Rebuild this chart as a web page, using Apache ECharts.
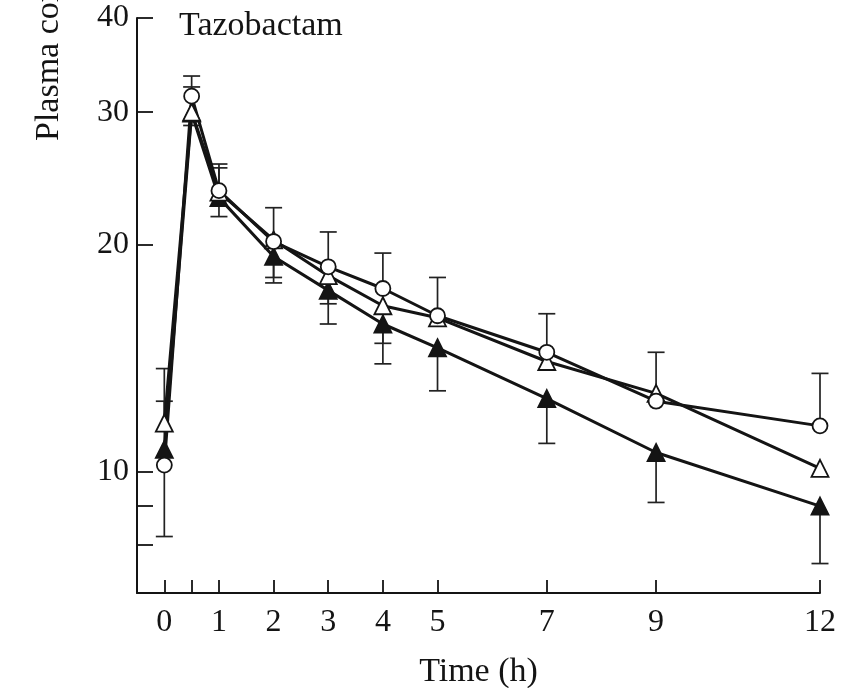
<!DOCTYPE html>
<html>
<head>
<meta charset="utf-8">
<title>Tazobactam plasma concentration</title>
<script src="https://cdn.jsdelivr.net/npm/echarts@6/dist/echarts.min.js"></script>
<style>
  html, body { margin: 0; padding: 0; background: #fff; }
  #chart { width: 863px; height: 688px; }
</style>
</head>
<body>
<div id="chart"></div>
<script>
// Sampling times (h)
const times = [0, 0.5, 1, 2, 3, 4, 5, 7, 9, 12];

// Mean plasma concentrations for the three groups
const circleMean    = [10.2, 31.5, 23.6, 20.2, 18.7, 17.5, 16.1, 14.4, 12.4, 11.5];
const openTriMean   = [11.6, 30.0, 23.5, 20.3, 18.2, 16.6, 16.0, 14.0, 12.7, 10.1];
const filledTriMean = [10.7, 29.9, 23.1, 19.3, 17.4, 15.7, 14.6, 12.5, 10.6, 9.0];

// Error-bar ends (null where no bar is drawn)
const circleUpper    = [12.4, 33.5, 25.6, 22.4, 20.8, 19.5, 18.1, 16.2, null, 13.5];
const circleLower    = [8.2, null, null, null, null, null, null, null, null, null];
const openTriUpper   = [13.7, 32.4, 25.3, null, null, null, null, null, 14.4, null];
const openTriLower   = [null, null, null, 18.1, 16.7, 14.8, null, null, null, null];
const filledTriLower = [null, 28.8, 21.8, 17.8, 15.7, 13.9, 12.8, 10.9, 9.1, 7.55];

// Axis ticks
const xTickValues  = [0, 0.5, 1, 2, 3, 4, 5, 7, 9, 12];
const xLabelValues = [0, 1, 2, 3, 4, 5, 7, 9, 12];
const yTickValues  = [8, 9, 10, 20, 30, 40];
const yLabelValues = [10, 20, 30, 40];

const FONT = '"Liberation Serif", "DejaVu Serif", serif';
const INK = '#141414';

function pairs(means) {
  return times.map((t, i) => [t, means[i]]);
}

function barData(means, ends) {
  const out = [];
  times.forEach((t, i) => {
    if (ends[i] != null) out.push([t, means[i], ends[i]]);
  });
  return out;
}

function renderBar(params, api) {
  const p0 = api.coord([api.value(0), api.value(1)]);
  const p1 = api.coord([api.value(0), api.value(2)]);
  const cap = 8.5;
  const style = { stroke: '#222', lineWidth: 1.7 };
  return {
    type: 'group',
    children: [
      { type: 'line', shape: { x1: p0[0], y1: p0[1], x2: p1[0], y2: p1[1] }, style: style },
      { type: 'line', shape: { x1: p1[0] - cap, y1: p1[1], x2: p1[0] + cap, y2: p1[1] }, style: style }
    ]
  };
}

function errorSeries(means, ends) {
  return {
    type: 'custom',
    renderItem: renderBar,
    data: barData(means, ends),
    encode: { x: 0, y: [1, 2] },
    z: 1,
    silent: true
  };
}

function lineSeries(means, symbol, size, fill) {
  return {
    type: 'line',
    data: pairs(means),
    symbol: symbol,
    symbolSize: size,
    showAllSymbol: true,
    lineStyle: { color: INK, width: 3 },
    itemStyle: { color: fill, borderColor: INK, borderWidth: 1.8 },
    z: 3,
    silent: true,
    animation: false
  };
}

const chart = echarts.init(document.getElementById('chart'), null, { renderer: 'canvas' });

chart.setOption({
  animation: false,
  backgroundColor: '#fff',
  grid: { left: 137, top: 18, width: 683, height: 575, containLabel: false, outerBoundsMode: 'none' },
  xAxis: {
    type: 'value',
    min: -0.5,
    max: 12,
    name: 'Time (h)',
    nameLocation: 'middle',
    nameGap: 62,
    nameTextStyle: { fontFamily: FONT, fontSize: 34, color: INK },
    axisLine: { onZero: false, lineStyle: { color: INK, width: 2 } },
    axisTick: { inside: true, length: 13, customValues: xTickValues, lineStyle: { color: INK, width: 1.8 } },
    axisLabel: { customValues: xLabelValues, margin: 14, fontFamily: FONT, fontSize: 32, color: INK },
    splitLine: { show: false }
  },
  yAxis: {
    type: 'log',
    logBase: 10,
    min: 6.9,
    max: 40,
    axisLine: { onZero: false, lineStyle: { color: INK, width: 2 } },
    axisTick: { inside: true, length: 16, customValues: yTickValues, lineStyle: { color: INK, width: 1.8 } },
    axisLabel: { customValues: yLabelValues, margin: 8, fontFamily: FONT, fontSize: 32, color: INK },
    splitLine: { show: false },
    minorTick: { show: false }
  },
  title: {
    text: 'Tazobactam',
    left: 174,
    top: 4,
    textStyle: { fontFamily: FONT, fontSize: 34, fontWeight: 'normal', color: INK }
  },
  graphic: [{
    type: 'text',
    x: 66,
    y: 141,
    rotation: Math.PI / 2,
    style: {
      text: 'Plasma concentration (\u00b5g/mL)',
      fontFamily: FONT,
      fontSize: 34,
      fill: INK,
      align: 'left',
      verticalAlign: 'bottom'
    }
  }],
  series: [
    errorSeries(circleMean, circleUpper),
    errorSeries(circleMean, circleLower),
    errorSeries(openTriMean, openTriUpper),
    errorSeries(openTriMean, openTriLower),
    errorSeries(filledTriMean, filledTriLower),
    lineSeries(filledTriMean, 'triangle', 17, INK),
    lineSeries(openTriMean, 'triangle', 17, '#fff'),
    lineSeries(circleMean, 'circle', 15, '#fff')
  ]
});
</script>
</body>
</html>
